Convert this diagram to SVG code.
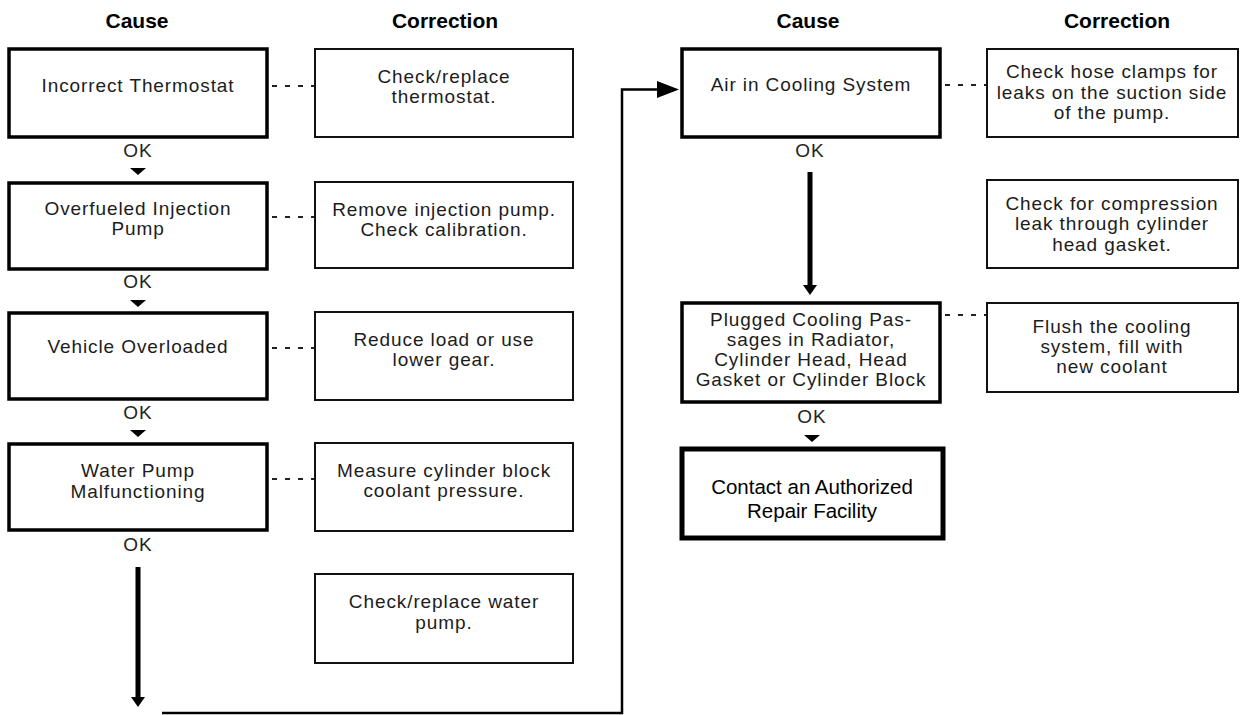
<svg xmlns="http://www.w3.org/2000/svg" width="1240" height="715" viewBox="0 0 1240 715">
<style>
.hdr{font-family:"Liberation Sans",Arial,sans-serif;font-weight:bold;font-size:21px;fill:#000;text-anchor:middle}
.t{font-family:"Liberation Sans",Arial,sans-serif;font-size:19px;letter-spacing:0.9px;fill:#1c1c1c;text-anchor:middle}
.ok{font-family:"Liberation Sans",Arial,sans-serif;font-size:19px;letter-spacing:0.9px;fill:#222;text-anchor:middle}
.big{font-family:"Liberation Sans",Arial,sans-serif;font-size:20.5px;fill:#000;text-anchor:middle}
.cause{fill:#fff;stroke:#000;stroke-width:3.5}
.corr{fill:#fff;stroke:#111;stroke-width:2}
.final{fill:#fff;stroke:#000;stroke-width:5}
.dot{stroke:#222;stroke-width:2.2;stroke-dasharray:5 8;fill:none}
.flow{stroke:#000;stroke-width:2.5;fill:none}
.thick{stroke:#000;stroke-width:5;fill:none}
.head{fill:#000}
</style>
<rect width="1240" height="715" fill="#fff"/>
<g id="headers">
<text class="hdr" x="137" y="28">Cause</text>
<text class="hdr" x="445" y="28">Correction</text>
<text class="hdr" x="808" y="28">Cause</text>
<text class="hdr" x="1117" y="28">Correction</text>
</g>
<g id="connectors">
<line class="dot" x1="272" y1="86" x2="315" y2="86"/>
<line class="dot" x1="272" y1="217" x2="315" y2="217"/>
<line class="dot" x1="272" y1="348" x2="315" y2="348"/>
<line class="dot" x1="272" y1="479" x2="315" y2="479"/>
<line class="dot" x1="945" y1="85" x2="987" y2="85"/>
<line class="dot" x1="945" y1="315" x2="987" y2="315"/>
<text class="ok" x="138" y="157">OK</text>
<path class="head" d="M130,168 L146,168 L138,175 Z"/>
<text class="ok" x="138" y="288">OK</text>
<path class="head" d="M130,300 L146,300 L138,307 Z"/>
<text class="ok" x="138" y="419">OK</text>
<path class="head" d="M130,430 L146,430 L138,437 Z"/>
<text class="ok" x="138" y="551">OK</text>
<line class="thick" x1="138" y1="567" x2="138" y2="699"/>
<path class="head" d="M131,697 L145,697 L138,707 Z"/>
<path class="flow" d="M162,713 L622,713 L622,89.5 L660,89.5"/>
<path class="head" d="M657,81 L679,89.5 L657,98 Z"/>
<text class="ok" x="810" y="157">OK</text>
<line class="thick" x1="810" y1="172" x2="810" y2="288"/>
<path class="head" d="M803,285 L817,285 L810,295 Z"/>
<text class="ok" x="812" y="423">OK</text>
<path class="head" d="M804,435 L820,435 L812,442 Z"/>
</g>
<g id="cause1"><rect class="cause" x="9" y="49" width="258" height="88"/><text class="t" x="138" y="92">Incorrect Thermostat</text></g>
<g id="cause2"><rect class="cause" x="9" y="183" width="258" height="86"/><text class="t" x="138" y="215">Overfueled Injection</text><text class="t" x="138" y="235">Pump</text></g>
<g id="cause3"><rect class="cause" x="9" y="313" width="258" height="86"/><text class="t" x="138" y="353">Vehicle Overloaded</text></g>
<g id="cause4"><rect class="cause" x="9" y="444" width="258" height="86"/><text class="t" x="138" y="477">Water Pump</text><text class="t" x="138" y="498">Malfunctioning</text></g>
<g id="corr1"><rect class="corr" x="315" y="49" width="258" height="88"/><text class="t" x="444" y="83">Check/replace</text><text class="t" x="444" y="103">thermostat.</text></g>
<g id="corr2"><rect class="corr" x="315" y="182" width="258" height="86"/><text class="t" x="444" y="216">Remove injection pump.</text><text class="t" x="444" y="236">Check calibration.</text></g>
<g id="corr3"><rect class="corr" x="315" y="312" width="258" height="88"/><text class="t" x="444" y="346">Reduce load or use</text><text class="t" x="444" y="366">lower gear.</text></g>
<g id="corr4"><rect class="corr" x="315" y="443" width="258" height="88"/><text class="t" x="444" y="477">Measure cylinder block</text><text class="t" x="444" y="497">coolant pressure.</text></g>
<g id="corr5"><rect class="corr" x="315" y="574" width="258" height="89"/><text class="t" x="444" y="608">Check/replace water</text><text class="t" x="444" y="629">pump.</text></g>
<g id="cause5"><rect class="cause" x="682" y="49" width="258" height="88"/><text class="t" x="811" y="91">Air in Cooling System</text></g>
<g id="cause6"><rect class="cause" x="682" y="303" width="258" height="99"/><text class="t" x="811" y="326">Plugged Cooling Pas-</text><text class="t" x="811" y="346">sages in Radiator,</text><text class="t" x="811" y="366">Cylinder Head, Head</text><text class="t" x="811" y="386">Gasket or Cylinder Block</text></g>
<g id="final"><rect class="final" x="682" y="449" width="261" height="89"/><text class="big" x="812" y="494">Contact an Authorized</text><text class="big" x="812" y="518">Repair Facility</text></g>
<g id="corr6"><rect class="corr" x="987" y="49" width="251" height="88"/><text class="t" x="1112" y="78">Check hose clamps for</text><text class="t" x="1112" y="99">leaks on the suction side</text><text class="t" x="1112" y="119">of the pump.</text></g>
<g id="corr7"><rect class="corr" x="987" y="180" width="251" height="88"/><text class="t" x="1112" y="210">Check for compression</text><text class="t" x="1112" y="230">leak through cylinder</text><text class="t" x="1112" y="251">head gasket.</text></g>
<g id="corr8"><rect class="corr" x="987" y="303" width="251" height="89"/><text class="t" x="1112" y="333">Flush the cooling</text><text class="t" x="1112" y="353">system, fill with</text><text class="t" x="1112" y="373">new coolant</text></g>
</svg>
